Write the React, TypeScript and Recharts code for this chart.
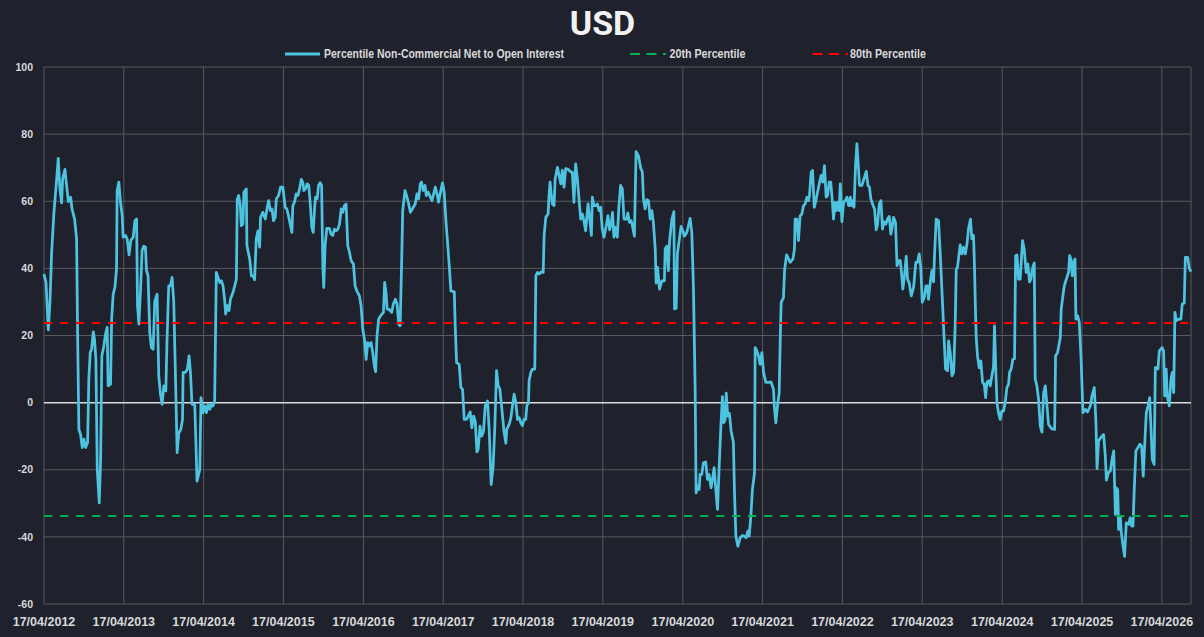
import React from 'react';
import { LineChart, Line, XAxis, YAxis, CartesianGrid, ReferenceLine } from 'recharts';

// [week index since 17/04/2012, percentile value]
const seg2012: [number, number][] = [
  [0, 38.3], [1.3, 35.8], [2.8, 21.7], [3.9, 29.9], [5, 44.8], [6.5, 56.7], [8.3, 66.7], [9.3, 72.8], [10.4, 63.7], [11.5, 59.5],
  [12.2, 66.7], [13.7, 69.5], [14.3, 66.7], [15.9, 59.9], [17.4, 61.2], [18.3, 57.7], [20, 54.7], [21.3, 48.8], [22, 18.9], [22.8, -8.0],
  [23.9, -9.5], [25, -13.4], [26.1, -10.9], [27.2, -13.4], [28.5, -11.9], [29.3, 7.0], [30.2, 14.9], [31.1, 15.9], [32.2, 21.1], [33, 18.9],
  [33.9, 12.9], [34.8, -19.9], [36.1, -29.9], [37, -16.9], [37.8, 13.9], [39.1, 16.9], [40.2, 20.4], [41.3, 22.4], [41.9, 5.0], [43.5, 5.5],
  [44.2, 24.9], [45.2, 32.3], [46.3, 34.3], [47.4, 39.8], [47.8, 63.2], [48.9, 65.7], [50, 59.7], [51.1, 55.7], [51.7, 49.3], [53.3, 49.8],
  [54.3, 48.8], [55.6, 44.0], [56.7, 48.3], [58.3, 49.3], [59.4, 54.2], [60.5, 54.7], [61.1, 28.9], [62, 23.4], [63.1, 33.8], [64.1, 45.3],
  [65.2, 46.6], [66.3, 46.3], [67, 39.3], [68, 37.8], [69.1, 20.9], [70.2, 16.4], [71.3, 15.9], [72.4, 30.3], [73.9, 32.3], [75, 8.0],
  [76.1, 2.5], [77.2, -0.5], [78.3, 5.0], [79.6, 3.5], [80.4, 18.9], [81.5, 34.8], [82.6, 34.8], [83.7, 37.3], [84.8, 29.9], [85.6, 13.9],
  [87, -14.9], [88.1, -9.0], [89.4, -8.0], [90.5, -5.0], [90.9, 9.0], [92.4, 9.0], [93.7, 10.0], [94.8, 13.9], [95.7, 9.0], [96.7, -0.5],
  [98.5, -0.5], [100, -23.4], [101.8, -19.9], [102.6, 1.5], [103.9, -3.0], [105, -1.0], [106.1, -3.0], [107.2, -0.5], [108.3, -2.0], [109.4, -0.5],
  [110.4, -1.0], [111.5, 0.5], [112.6, 38.8], [114.8, 35.8], [115.9, 36.3], [117, 34.8], [118, 30.8], [118.7, 26.4], [119.8, 28.9], [120.9, 27.4],
  [121.8, 30.8], [123.5, 32.8],
];

const seg2014: [number, number][] = [
  [124.6, 34.8], [125.7, 36.8], [126.3, 60.7], [127.2, 61.7], [128.3, 58.7], [128.9, 52.7], [130, 53.2], [130.6, 62.7], [132.2, 63.7], [132.6, 46.8],
  [134.4, 42.8], [135.5, 37.8], [136.6, 37.8], [137.6, 36.6], [138.7, 48.8], [139.8, 51.2], [140.9, 46.3], [141.5, 55.2], [143, 56.7], [144.6, 54.7],
  [145.7, 57.7], [146.8, 60.2], [147.9, 57.2], [149, 57.7], [150, 54.2], [151.1, 55.2], [151.8, 60.7], [153.3, 61.7], [154.6, 64.2], [156.1, 64.2],
  [157.6, 58.2], [158.7, 57.7], [160, 55.2], [161.1, 52.7], [162, 50.7], [162.6, 58.7], [163.7, 59.7], [164.8, 62.2], [165.9, 61.7], [167, 63.7],
  [168.1, 66.5], [169.1, 65.7], [169.8, 63.2], [170.9, 63.7], [172, 65.2], [173, 64.7], [173.9, 59.7], [175, 52.2], [175.9, 50.7], [176.8, 57.7],
  [177.4, 61.2], [178.5, 60.7], [179.4, 64.7], [180.5, 65.5], [181.4, 64.7], [182.2, 40.8], [182.8, 34.3], [183.7, 46.8], [184.8, 51.9], [186.5, 51.9],
  [187.6, 50.2], [188.7, 49.8], [189.8, 51.7], [190.9, 51.2], [192, 51.7], [193.1, 53.2], [194.2, 57.7], [195.2, 56.7], [196.3, 58.7], [197.4, 59.2],
  [198.5, 46.8], [199.6, 44.8], [200.7, 42.3], [202.2, 41.3], [203.3, 34.8], [204.4, 33.3], [206.1, 31.8], [207.2, 28.9], [208.3, 21.9], [209.4, 18.9],
  [210.5, 12.9], [211.5, 17.9], [212.6, 16.9], [213.7, 17.9], [214.8, 14.9], [215.9, 10.9], [216.7, 9.2], [217.6, 19.9], [218.7, 24.9], [220.3, 26.1],
  [221.8, 26.9], [222.6, 35.8], [223.5, 32.8], [224.2, 27.9], [225.7, 27.7], [227.2, 26.9], [228.3, 29.4], [229.6, 30.8], [230.7, 29.4], [231.8, 23.4],
  [232.7, 22.9], [233.7, 41.8], [234.4, 57.2], [235.9, 63.2], [237.2, 61.2], [238.3, 59.2], [239.4, 56.7], [240.9, 57.9], [242.6, 59.2], [243.7, 62.2],
  [244.8, 60.7], [245.9, 65.2], [246.7, 65.7], [247.8, 63.2], [249, 64.7], [249.8, 61.7], [251.1, 62.7],
];

const seg2017: [number, number][] = [
  [252.5, 61.2], [253.5, 60.2], [255.7, 64.2], [256.8, 62.2], [257.8, 59.7], [258.9, 62.2], [260.4, 65.5], [261.5, 62.7], [262.7, 53.7], [263.7, 47.8],
  [264.8, 40.8], [265.9, 33.3], [268.1, 33.0], [268.7, 22.9], [269.6, 11.9], [271.3, 11.4], [272.4, 4.5], [273.5, 4.0], [274.6, -5.0], [276.1, -5.0],
  [277.4, -3.8], [278.5, -2.8], [279.6, -7.5], [280.7, -4.0], [281.8, -5.5], [282.9, -14.7], [283.7, -13.9], [284.9, -7.0], [286, -10.0], [287.2, -8.5],
  [288.3, -1.0], [289.8, 0.5], [290.9, -8.0], [292.2, -24.4], [293.5, -18.9], [294.6, -7.0], [295.7, 9.5], [296.8, 5.0], [297.9, 4.0], [299.2, -2.0],
  [300.7, -9.0], [301.8, -12.1], [302.4, -8.0], [303.9, -6.5], [305, -4.8], [306.1, -1.0], [307.2, 2.5], [308.3, 0], [309.4, -5.0], [310.5, -4.5],
  [311.6, -6.0], [312.6, -6.8], [313.7, -5.0], [314.8, -5.0], [315.5, -1.0], [316.6, 0], [317, 6.5], [318.1, 9.0], [319.2, 10.0], [320.7, 10.0],
  [321.4, 37.8], [322.5, 38.8], [323.6, 38.3], [325, 39.0], [326.2, 38.8], [326.8, 49.8], [327.9, 55.2], [329.4, 56.2], [330, 61.7], [330.7, 65.7],
  [331.5, 61.7], [332.2, 59.2], [333.3, 58.7], [334, 66.7], [335.5, 70.1], [336.6, 67.7], [337.7, 65.2], [338.7, 69.2], [339.8, 64.2], [340.9, 69.7],
  [342.6, 69.5], [344.2, 68.7], [345.2, 68.7], [346.3, 59.7], [347.4, 71.1], [348.5, 66.7], [349.6, 60.7], [350.7, 54.7], [351.8, 56.2], [352.8, 54.2],
  [353.9, 51.2], [355.5, 59.2], [356.6, 54.7], [357.7, 49.8], [358.3, 61.2], [359.4, 58.7], [360.5, 58.7], [361.6, 59.2], [362.7, 57.2], [363.7, 58.2],
  [364.8, 51.7], [365.9, 49.3], [367.4, 52.7], [368.5, 55.7], [369.6, 51.5], [370.7, 53.7], [371.5, 56.7], [372.4, 49.3], [373.5, 52.2], [374.6, 49.3],
  [375.7, 58.7], [376.8, 64.7], [377.9, 63.7], [379, 54.7],
];

const seg2019: [number, number][] = [
  [380.8, 54.7], [381.5, 56.5], [382.6, 53.7], [383.7, 54.2], [384.5, 52.7], [385.8, 49.6], [386.9, 74.8], [388.4, 73.6], [390, 69.7], [391, 68.7],
  [391.7, 60.7], [392.8, 57.7], [393.9, 60.5], [395, 60.2], [396.1, 54.7], [397.2, 57.2], [398.2, 53.7], [399.4, 45.8], [400, 35.6], [400.9, 40.3],
  [402.2, 33.8], [403.7, 36.3], [405.4, 36.3], [405.9, 45.8], [406.9, 46.6], [408, 39.3], [408.7, 47.8], [410.3, 54.7], [411.6, 56.9], [412, 27.9],
  [413.1, 28.1], [413.9, 44.3], [415.2, 48.8], [416.3, 52.5], [417.4, 51.2], [418.5, 49.6], [420, 50.7], [421.1, 52.7], [422.2, 54.9], [423.3, 50.7],
  [424.4, 33.8], [425.5, 4.0], [426.1, -26.9], [427.2, -24.9], [428.1, -25.9], [428.7, -21.4], [429.8, -21.4], [430.9, -17.9], [432.4, -17.7], [433.5, -22.9],
  [434.6, -21.4], [435.9, -25.4], [436.8, -22.9], [437.9, -19.4], [439, -25.9], [440.1, -31.8], [441.2, -18.9], [442.3, -7.0], [443.3, 1.8], [444.2, -6.0],
  [445.1, -5.0], [445.8, 2.8], [446.8, -4.0], [447.9, -3.2], [449, -8.5], [450.5, -11.9], [451.2, -26.9], [452.1, -39.8], [453.4, -42.8], [454.9, -40.3],
  [456.4, -39.6], [457.7, -39.8], [458.8, -40.3], [459.9, -38.3], [460.8, -39.8], [461.9, -33.8], [462.9, -25.9], [464.3, -20.9], [464.7, 16.4], [465.8, 15.4],
  [466.9, 13.9], [468, 11.4], [469.1, 14.9], [470.2, 9.0], [471.7, 6.0], [473.5, 6.0], [475, 6.2], [476.7, 4.0], [477.2, -1.0], [478.2, -6.0],
  [479.3, -1.0], [480.4, 3.0], [481.1, 18.9], [481.7, 29.9], [483.2, 31.3], [483.9, 39.3], [485.2, 44.0], [486.5, 42.8], [487.6, 41.8], [489.4, 42.8],
  [490.4, 45.8], [490.8, 54.7], [491.9, 54.7], [493, 48.3], [494.1, 55.7], [495.2, 56.2], [496.3, 58.7], [497.4, 59.2], [498.5, 61.2], [499.6, 60.2],
  [500.2, 61.7], [501.3, 68.7], [502.2, 69.2], [503.3, 58.2], [504.4, 60.2], [505.7, 63.2], [506.8, 65.7], [507.8, 67.7], [508.9, 65.7], [510, 70.6],
];

const seg2021: [number, number][] = [
  [511.1, 61.2], [512, 61.7], [513.1, 65.7], [514.1, 65.7], [515.2, 59.7], [515.9, 54.7], [517, 59.7], [517.6, 57.2], [518.8, 59.7], [519.6, 57.2],
  [520.3, 65.2], [521.4, 53.9], [522.5, 59.7], [523.6, 60.2], [524.7, 61.2], [525.8, 58.7], [526.9, 61.2], [527.5, 58.7], [528.2, 60.2], [529.3, 58.2],
  [530.3, 70.6], [531.2, 77.1], [532.1, 70.6], [532.9, 64.7], [534.4, 64.7], [535.5, 66.2], [537.3, 68.9], [538.4, 64.7], [539.4, 64.2], [540.3, 60.7],
  [541.4, 59.2], [542.7, 57.7], [543.8, 51.5], [544.7, 53.2], [545.8, 59.2], [546.9, 60.2], [547.9, 51.7], [549, 53.9], [550.1, 53.2], [551.2, 54.7],
  [552.3, 55.5], [553.4, 50.2], [554.2, 52.2], [555.1, 55.2], [556.4, 53.7], [557.4, 40.8], [558.4, 42.3], [559.5, 42.3], [560.2, 39.3], [561.2, 33.8],
  [562.3, 37.8], [563.4, 43.6], [564.3, 36.8], [565.4, 35.6], [566.7, 31.8], [568.2, 34.3], [569.7, 41.8], [570.8, 41.8], [571.9, 44.3], [572.9, 40.3],
  [573.9, 29.9], [575.2, 31.3], [576.3, 34.8], [577.1, 34.8], [578, 30.8], [579.1, 35.8], [580.2, 39.3], [581.3, 36.0], [581.9, 43.8], [583, 54.7],
  [584.5, 54.2], [585.6, 44.8], [586.7, 33.8], [587.4, 26.9], [588.2, 18.9], [589.1, 10.0], [590.4, 9.5], [591.1, 18.4], [592.2, 14.9], [593.3, 8.0],
  [594.4, 9.0], [595.4, 22.9], [596.1, 39.8], [596.9, 40.3], [597.8, 43.8], [598.7, 47.0], [599.8, 44.3], [600.9, 46.3], [602, 44.3], [603, 46.8],
  [604.1, 51.7], [605.4, 54.7], [606.3, 48.8], [607.4, 49.8], [608, 40.8], [608.7, 26.9], [609.2, 18.9], [610, 13.9], [611.1, 10.4], [612.2, 12.4],
  [613.3, 6.0], [614.4, 5.5], [615.3, 1.5], [616.1, 6.0], [617.2, 6.5], [618.3, 5.0], [619.4, 8.0], [620.5, 10.9], [621.1, 22.9], [622, 9.0],
  [622.7, 0], [623.7, -3.0], [624.8, -5.0], [625.9, -2.5], [627, -2.5], [628.1, 0], [629.2, 4.5], [630.3, 5.5], [630.9, 9.0], [632, 10.0],
  [633.1, 12.9], [634.2, 13.1],
];

const seg2024: [number, number][] = [
  [634.9, 43.8], [635.8, 44.0], [636.8, 36.8], [637.9, 36.8], [639.4, 48.3], [640.5, 45.8], [641.8, 38.8], [642.9, 41.3], [644, 36.0], [644.9, 36.8],
  [645.8, 39.8], [647.1, 41.6], [647.7, 7.0], [648.8, 5.0], [649.9, 1.0], [651, -7.0], [652.1, -8.8], [653.2, 3.0], [654.3, 5.0], [655.4, -1.0],
  [656.4, -6.5], [657.5, -7.2], [658.6, -7.8], [660.4, -8.0], [661, 13.9], [662.3, 14.9], [664.1, 19.4], [664.7, 27.9], [665.8, 31.8], [666.7, 34.8],
  [668.4, 37.3], [669.5, 38.8], [670.2, 43.8], [671, 42.8], [671.9, 37.8], [672.8, 41.8], [673.7, 42.8], [674.3, 24.9], [675.4, 25.9], [676.5, 23.9],
  [677.6, 13.9], [678.9, -3.0], [680.4, -2.0], [681.9, -2.8], [683.7, -1.0], [684.8, 2.0], [686.3, 4.5], [687.4, -6.0], [688.1, -19.7], [689.1, -11.4],
  [690.6, -10.4], [692.4, -9.5], [693.5, -15.9], [694.2, -23.1], [695.7, -20.7], [696.8, -20.4], [697.9, -16.9], [699, -14.4], [700.1, -33.3], [700.7, -25.4],
  [701.6, -25.9], [702.2, -37.8], [703.3, -33.8], [703.9, -38.3], [704.8, -41.8], [706.1, -45.8], [707.2, -35.8], [708.7, -36.3], [709.8, -34.3], [710.7, -36.8],
  [711.6, -36.8], [712.4, -25.9], [713.5, -14.4], [714.8, -13.4], [716.1, -12.4], [717.2, -12.9], [718.3, -21.9], [719.4, -10.9], [720.3, -3.0], [721.4, -1.0],
  [722.5, 1.5], [723.4, -8.0], [724.2, -16.9], [725.4, -18.4], [726.2, 10.4], [727.3, 10.4], [727.9, 10.0], [728.8, 15.4], [730.6, 16.4], [731.6, 15.4],
  [732.3, 2.0], [733.3, 10.0], [734, 2.0], [735.3, -1.0], [736.4, 7.0], [737.3, 9.0], [738.2, 3.0], [739, 26.9], [739.9, 24.4], [741.4, 24.9],
  [742.9, 24.9], [743.8, 29.4], [745.1, 29.7], [745.8, 43.3], [747.3, 43.3], [748.4, 40.0], [749.5, 39.0],
];

const tickYears = [2012, 2013, 2014, 2015, 2016, 2017, 2018, 2019, 2020, 2021, 2022, 2023, 2024, 2025, 2026];
const yTicks = [-60, -40, -20, 0, 20, 40, 60, 80, 100];
const percentile20 = -33.8;
const percentile80 = 23.7;

const SERIES_NAME = 'Percentile Non-Commercial Net to Open Interest';
const START = Date.UTC(2012, 3, 17);
const WEEK_MS = 7 * 86400000;

const data = [...seg2012, ...seg2014, ...seg2017, ...seg2019, ...seg2021, ...seg2024].map(([w, v]) => ({
  t: START + w * WEEK_MS,
  value: v,
}));
const xTicks = tickYears.map((y) => Date.UTC(y, 3, 17));
const xDomain: [number, number] = [START, data[data.length - 1].t];

const pad = (n: number) => (n < 10 ? '0' + n : String(n));
const fmtDate = (t: number) => {
  const d = new Date(t);
  return `${pad(d.getUTCDate())}/${pad(d.getUTCMonth() + 1)}/${d.getUTCFullYear()}`;
};

const BG = '#1f222d';
const LINE = '#4ec3df';
const TEXT = '#d9d9d9';
const GRID = '#595959';
const AXIS_FONT = '"Liberation Sans", Arial, sans-serif';

export default function App() {
  return (
    <div style={{ position: 'absolute', left: 0, top: 0, width: 1204, height: 637, background: BG }}>
      <LineChart width={1204} height={637} data={data} margin={{ top: 67, right: 13, left: 0, bottom: 0 }}>
        <CartesianGrid stroke={GRID} strokeWidth={1} />
        <XAxis
          type="number"
          dataKey="t"
          domain={xDomain}
          ticks={xTicks}
          tickFormatter={fmtDate}
          axisLine={false}
          tickLine={false}
          tickSize={0}
          tickMargin={13}
          height={33}
          interval={0}
          tick={{ fill: TEXT, fontSize: 12.5, fontWeight: 700, fontFamily: AXIS_FONT }}
        />
        <YAxis
          type="number"
          domain={[-60, 100]}
          ticks={yTicks}
          axisLine={false}
          tickLine={false}
          tickSize={0}
          tickMargin={11}
          width={44}
          interval={0}
          tick={{ fill: TEXT, fontSize: 10.5, fontWeight: 700, fontFamily: AXIS_FONT }}
        />
        <ReferenceLine y={0} stroke={TEXT} strokeWidth={1.5} />
        <Line
          type="linear"
          dataKey="value"
          name={SERIES_NAME}
          stroke={LINE}
          strokeWidth={2.75}
          strokeLinejoin="round"
          dot={false}
          activeDot={false}
          isAnimationActive={false}
        />
        <ReferenceLine y={percentile20} stroke="#00b050" strokeWidth={2} strokeDasharray="8.3 7.7" />
        <ReferenceLine y={percentile80} stroke="#ff0000" strokeWidth={2} strokeDasharray="8.3 7.7" />
      </LineChart>
      <svg
        width={1204}
        height={637}
        style={{ position: 'absolute', left: 0, top: 0, pointerEvents: 'none' }}
      >
        <text x={602.5} y={35} textAnchor="middle" fill="#f2f2f2" fontSize={34} fontWeight={700} fontFamily="Roboto, sans-serif">
          USD
        </text>
        <line x1={285} x2={320} y1={54} y2={54} stroke={LINE} strokeWidth={3} />
        <text x={324} y={58.3} fill={TEXT} fontSize={12} fontWeight={700} fontFamily={AXIS_FONT} textLength={240} lengthAdjust="spacingAndGlyphs">
          {SERIES_NAME}
        </text>
        <line x1={630} x2={666} y1={54} y2={54} stroke="#00b050" strokeWidth={2} strokeDasharray="10 6.5" />
        <text x={669.5} y={58.3} fill={TEXT} fontSize={12} fontWeight={700} fontFamily={AXIS_FONT} textLength={76} lengthAdjust="spacingAndGlyphs">
          20th Percentile
        </text>
        <line x1={812.5} x2={848} y1={54} y2={54} stroke="#ff0000" strokeWidth={2} strokeDasharray="10 6.5" />
        <text x={850} y={58.3} fill={TEXT} fontSize={12} fontWeight={700} fontFamily={AXIS_FONT} textLength={76} lengthAdjust="spacingAndGlyphs">
          80th Percentile
        </text>
      </svg>
    </div>
  );
}
